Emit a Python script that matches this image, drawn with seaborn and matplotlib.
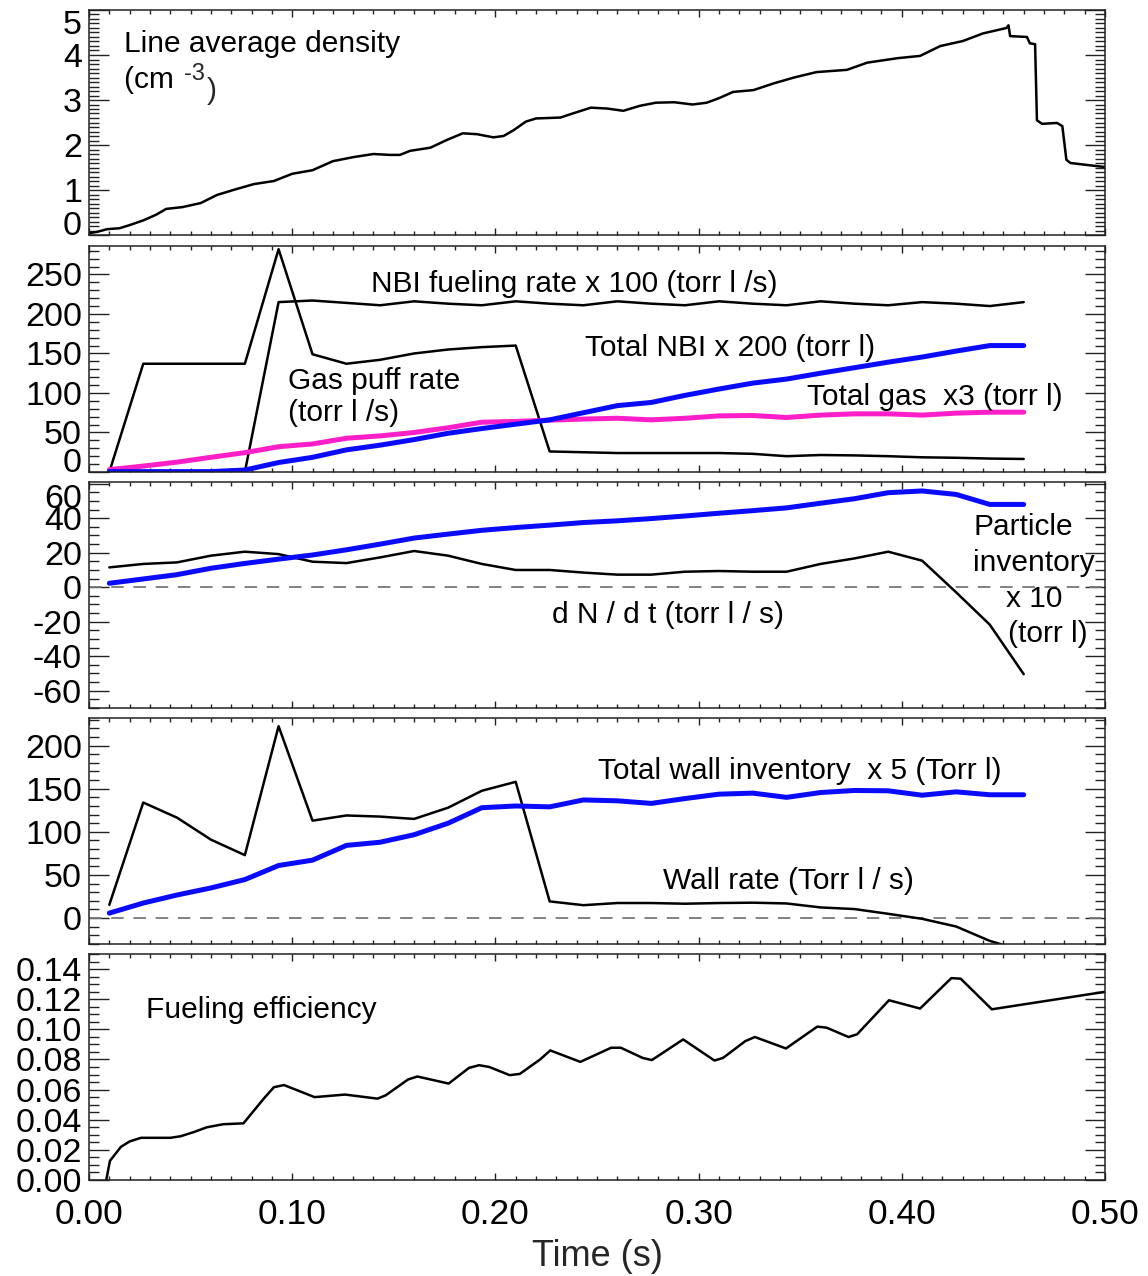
import numpy as np
import pandas as pd
import matplotlib
matplotlib.use("Agg")
import matplotlib.pyplot as plt
from matplotlib.ticker import MultipleLocator, FixedLocator
import seaborn as sns

# ---------------- data ----------------
# panel 1: line average density
dens_t = [0.000, 0.004, 0.009, 0.015, 0.020, 0.027, 0.033, 0.038, 0.046, 0.055,
          0.063, 0.071, 0.081, 0.091, 0.100, 0.110, 0.120, 0.130, 0.140, 0.148,
          0.153, 0.158, 0.168, 0.176, 0.184, 0.191, 0.199, 0.204, 0.209, 0.215,
          0.220, 0.232, 0.238, 0.247, 0.255, 0.263, 0.271, 0.279, 0.288, 0.297,
          0.304, 0.310, 0.317, 0.327, 0.337, 0.347, 0.358, 0.373, 0.383, 0.398,
          0.409, 0.419, 0.430, 0.440, 0.4515, 0.4525, 0.4533, 0.4616, 0.4630, 0.4656,
          0.4665, 0.4690, 0.4764, 0.4790, 0.4810, 0.4830, 0.500]
dens_v = [0.04, 0.07, 0.13, 0.15, 0.22, 0.33, 0.45, 0.58, 0.62, 0.71,
          0.89, 1.00, 1.13, 1.20, 1.36, 1.44, 1.64, 1.73, 1.80, 1.78,
          1.78, 1.87, 1.94, 2.11, 2.26, 2.24, 2.17, 2.20, 2.33, 2.52,
          2.59, 2.61, 2.70, 2.83, 2.81, 2.76, 2.87, 2.94, 2.95, 2.90,
          2.94, 3.04, 3.18, 3.22, 3.37, 3.50, 3.62, 3.67, 3.83, 3.93,
          3.98, 4.20, 4.31, 4.48, 4.60, 4.66, 4.42, 4.40, 4.26, 4.24,
          2.55, 2.47, 2.49, 2.42, 1.67, 1.60, 1.51]

# common time base for panels 2-4
t_s = [0.0100, 0.0267, 0.0433, 0.0600, 0.0767, 0.0933, 0.1100, 0.1267, 0.1433, 0.1600,
       0.1767, 0.1933, 0.2100, 0.2267, 0.2433, 0.2600, 0.2767, 0.2933, 0.3100, 0.3267,
       0.3433, 0.3600, 0.3767, 0.3933, 0.4100, 0.4267, 0.4433, 0.4600]

# panel 2
gas_puff_rate = [0, 137, 137, 137, 137, 282, 149, 137, 142, 150,
                 155, 158, 160, 26, 25, 24, 24, 24, 24, 23,
                 20, 21.5, 21, 20, 18.6, 18, 17, 16.5]
nbi_rate_x100 = [0, 0, 0, 0, 0, 215, 217, 214, 211, 216,
                 213, 211, 216, 213, 211, 216, 213, 211, 216, 213,
                 211, 216, 213, 211, 215, 213, 210, 215]
total_nbi_x200 = [0.5, 0.5, 0.5, 0.5, 2.5, 12, 18.6, 28, 34, 41,
                  49, 55, 60.5, 66, 75, 84, 88, 97, 105, 112.5,
                  117.6, 125, 132, 139, 145.5, 153, 160, 160]
total_gas_x3 = [3, 7.5, 12.5, 18.6, 24.5, 32, 35.5, 42.7, 45.7, 50,
                56, 63, 64, 65.6, 67, 68, 66, 68, 71, 71.5,
                69, 72, 73.6, 73.6, 72, 74.5, 75.7, 75.7]

# panel 3
particle_inv_x10 = [2.3, 4.8, 7.3, 11, 13.8, 16.3, 18.7, 21.7, 25, 28.5,
                    30.8, 33, 34.6, 36, 37.5, 38.5, 39.8, 41.3, 42.9, 44.4,
                    46, 48.7, 51.3, 54.8, 55.8, 53.8, 48, 48]
dn_dt = [11.5, 13.5, 14.4, 18.3, 20.6, 19.2, 14.8, 14, 17.3, 21,
         18.3, 13.5, 10, 10, 8.5, 7.3, 7.3, 9, 9.4, 9,
         9, 13.5, 16.7, 20.6, 15.4, -2.9, -21.7, -50.4]

# panel 4
wall_rate = [15.5, 134, 116.5, 91, 73, 222.5, 113, 119, 117.7, 115,
             128, 147.6, 158, 19.4, 15, 17.5, 17.5, 16.7, 17.5, 17.9,
             17, 12.4, 10.5, 5, -0.8, -9.7, -26.4, -38]
wall_inv_x5 = [5.8, 17.5, 26.8, 35, 44.7, 61, 67.2, 84.3, 88, 96.7,
               110, 128, 130, 129, 137, 136, 133, 138.6, 143.7, 144.9,
               140, 145.6, 148, 147.6, 142.5, 146.4, 143, 143]

# panel 5
eff_t = [0.0085, 0.0103, 0.0157, 0.0200, 0.0256, 0.0400, 0.0450, 0.0520, 0.0580, 0.0660,
         0.0760, 0.0860, 0.0910, 0.0960, 0.1110, 0.1260, 0.1420, 0.1460, 0.1570, 0.1616,
         0.1770, 0.1870, 0.1920, 0.1970, 0.2070, 0.2120, 0.2220, 0.2270, 0.2418, 0.2460,
         0.2570, 0.2617, 0.2725, 0.2770, 0.2924, 0.3078, 0.3120, 0.3230, 0.3277, 0.3430,
         0.3584, 0.3630, 0.3738, 0.3780, 0.3937, 0.4090, 0.4244, 0.4290, 0.4443, 0.5000]
eff_v = [0.0, 0.0127, 0.022, 0.0256, 0.028, 0.028, 0.029, 0.032, 0.035, 0.037,
         0.0376, 0.054, 0.0616, 0.063, 0.055, 0.0567, 0.054, 0.0562, 0.0667, 0.0687,
         0.064, 0.0744, 0.0762, 0.075, 0.0696, 0.0704, 0.080, 0.086, 0.0784, 0.081,
         0.0878, 0.0878, 0.081, 0.0796, 0.0933, 0.0793, 0.081, 0.0922, 0.0949, 0.0873,
         0.1018, 0.1011, 0.0949, 0.0967, 0.1193, 0.1138, 0.134, 0.1336, 0.1133, 0.1249]

x_ticks = [0.0, 0.1, 0.2, 0.3, 0.4, 0.5]
x_tick_labels = ["0.00", "0.10", "0.20", "0.30", "0.40", "0.50"]

# ---------------- style ----------------
sns.set_theme(style="ticks")
plt.rcParams['font.family'] = ['Liberation Sans', 'DejaVu Sans']
plt.rcParams['axes.unicode_minus'] = False
plt.rcParams['lines.scale_dashes'] = False

W, H = 1148, 1276
fig = plt.figure(figsize=(W / 100, H / 100), dpi=100)
fig.patch.set_facecolor('white')

L, R = 89, 1105
tops = [10, 246, 482, 718, 954]
heights = [225, 226, 226, 226, 226]

BLUE = '#0a0aff'
PINK = '#ff1fc8'
TICK_FS = 24.5
ANN_FS = 21.5
BLW = 1.8   # black line width
CLW = 3.6   # coloured line width


def make_ax(i):
    top = tops[i]
    h = heights[i]
    return fig.add_axes([L / W, 1 - (top + h) / H, (R - L) / W, h / H])


def style_ax(ax, yticks, ylabels, ylim, yminor):
    ax.set_xlim(0, 0.5)
    ax.set_ylim(*ylim)
    ax.set_facecolor('white')
    ax.set_xticks(x_ticks)
    ax.xaxis.set_minor_locator(MultipleLocator(0.01))
    ax.yaxis.set_major_locator(FixedLocator(yticks))
    ax.set_yticklabels(ylabels)
    ax.yaxis.set_minor_locator(MultipleLocator(yminor))
    for s in ax.spines.values():
        s.set_visible(True)
        s.set_color('#222222')
        s.set_linewidth(1.1)
    ax.tick_params(axis='both', which='both', direction='in', colors='#222222',
                   top=True, right=True, labelcolor='black')
    ax.tick_params(axis='y', which='major', length=14.5, width=1.0, labelsize=TICK_FS, pad=5)
    ax.tick_params(axis='y', which='minor', length=7.2, width=1.0)
    ax.tick_params(axis='x', which='major', length=5, width=1.0, labelsize=25.5, pad=13)
    ax.tick_params(axis='x', which='minor', length=2.6, width=1.0)
    ax.set_xlabel('')
    ax.set_ylabel('')
    ax.grid(False)


def ftext(x, y, s, fs=ANN_FS, **kw):
    return fig.text(x / W, 1 - y / H, s, fontsize=fs, ha='left', va='baseline',
                    color='black', **kw)


# ---------------- panel 1 ----------------
ax1 = make_ax(0)
sns.lineplot(x=dens_t, y=dens_v, ax=ax1, color='black', linewidth=BLW, estimator=None)
style_ax(ax1, [0, 1, 2, 3, 4, 5], ['0', '1', '2', '3', '4', '5'], (0, 5), 0.1)
ylabs = ax1.get_yticklabels()
ylabs[0].set_va('baseline')
ylabs[-1].set_va('top')
ax1.set_xticklabels([])
ftext(124, 52, 'Line average density')
t_cm = ftext(124, 88, '(cm ')
sup = ax1.annotate('-3', xy=(1, 0), xycoords=t_cm, xytext=(1, 10), textcoords='offset points',
                   fontsize=17, ha='left', va='baseline')
ax1.annotate(')', xy=(1, 0), xycoords=sup, xytext=(2, -10), textcoords='offset points',
             fontsize=ANN_FS, ha='left', va='baseline')

# ---------------- panel 2 ----------------
ax2 = make_ax(1)
sns.lineplot(x=t_s, y=gas_puff_rate, ax=ax2, color='black', linewidth=BLW, estimator=None)
sns.lineplot(x=t_s, y=nbi_rate_x100, ax=ax2, color='black', linewidth=BLW, estimator=None)
sns.lineplot(x=t_s, y=total_gas_x3, ax=ax2, color=PINK, linewidth=CLW, estimator=None)
sns.lineplot(x=t_s, y=total_nbi_x200, ax=ax2, color=BLUE, linewidth=CLW, estimator=None)
style_ax(ax2, [0, 50, 100, 150, 200, 250], ['0', '50', '100', '150', '200', '250'], (0, 286), 10)
ax2.get_yticklabels()[0].set_va('baseline')
ax2.set_xticklabels([])
ftext(371, 292, 'NBI fueling rate x 100 (torr l /s)')
ftext(585, 356, 'Total NBI x 200 (torr l)')
ftext(288, 389, 'Gas puff rate')
ftext(288, 421, '(torr l /s)')
ftext(807, 405, 'Total gas  x3 (torr l)')

# ---------------- panel 3 ----------------
ax3 = make_ax(2)
ax3.axhline(0, color='#777777', linewidth=1.3, linestyle=(0, (9, 7)))
sns.lineplot(x=t_s, y=dn_dt, ax=ax3, color='black', linewidth=BLW, estimator=None)
sns.lineplot(x=t_s, y=particle_inv_x10, ax=ax3, color=BLUE, linewidth=CLW, estimator=None)
style_ax(ax3, [-60, -40, -20, 0, 20, 40, 60], ['-60', '-40', '-20', '0', '20', '40', '60'], (-70, 61), 5)
ax3.get_yticklabels()[-1].set_va('top')
ax3.set_xticklabels([])
ftext(974, 535, 'Particle')
ftext(973, 571, 'inventory')
ftext(1006, 607, 'x 10')
ftext(1008, 642, '(torr l)')
ftext(552, 623, 'd N / d t (torr l / s)')

# ---------------- panel 4 ----------------
ax4 = make_ax(3)
ax4.axhline(0, color='#777777', linewidth=1.3, linestyle=(0, (9, 7)))
sns.lineplot(x=t_s, y=wall_rate, ax=ax4, color='black', linewidth=BLW, estimator=None)
sns.lineplot(x=t_s, y=wall_inv_x5, ax=ax4, color=BLUE, linewidth=CLW, estimator=None)
style_ax(ax4, [0, 50, 100, 150, 200], ['0', '50', '100', '150', '200'], (-30, 232), 10)
ax4.set_xticklabels([])
ftext(598, 779, 'Total wall inventory  x 5 (Torr l)')
ftext(663, 889, 'Wall rate (Torr l / s)')

# ---------------- panel 5 ----------------
ax5 = make_ax(4)
sns.lineplot(x=eff_t, y=eff_v, ax=ax5, color='black', linewidth=BLW, estimator=None)
style_ax(ax5, [0.0, 0.02, 0.04, 0.06, 0.08, 0.10, 0.12, 0.14],
         ['0.00', '0.02', '0.04', '0.06', '0.08', '0.10', '0.12', '0.14'], (0, 0.15), 0.005)
ax5.set_xticklabels(x_tick_labels)
ax5.set_xlabel('Time (s)', fontsize=26, labelpad=6)
ftext(146, 1018, 'Fueling efficiency')

fig.savefig('out.png', dpi=100, facecolor='white')
